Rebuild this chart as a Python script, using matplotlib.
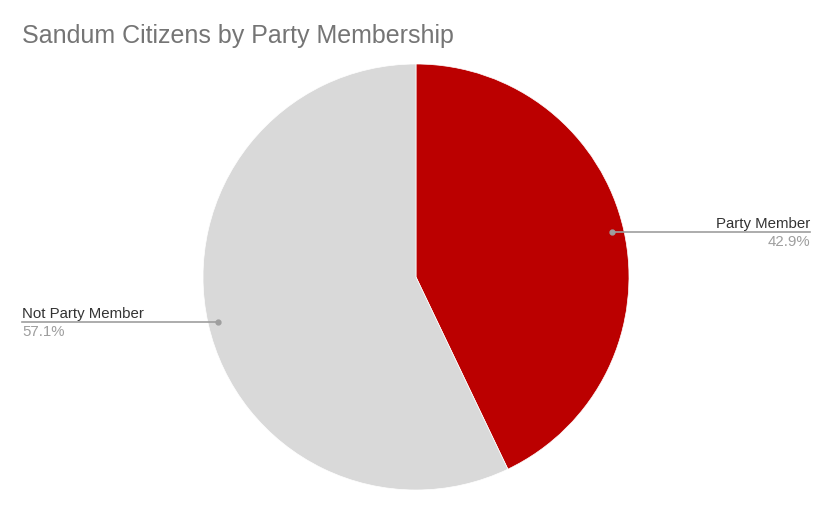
import matplotlib

matplotlib.use("Agg")
import matplotlib.pyplot as plt

plt.rcParams["font.family"] = ["Liberation Sans", "DejaVu Sans"]

TITLE = "Sandum Citizens by Party Membership"
LABELS = ["Party Member", "Not Party Member"]
VALUES = [42.9, 57.1]
COLORS = ["#bb0000", "#d9d9d9"]

W, H = 833, 513

fig = plt.figure(figsize=(W / 100, H / 100), dpi=100)
ax = fig.add_axes([0, 0, 1, 1])

cx, cy, r = 416, H - 277, 213
ax.pie(
    VALUES,
    colors=COLORS,
    startangle=90,
    counterclock=False,
    center=(cx, cy),
    radius=r,
    wedgeprops=dict(linewidth=0.5, edgecolor="white"),
    frame=True,
)
ax.set_xlim(0, W)
ax.set_ylim(0, H)
ax.set_aspect("equal")
ax.axis("off")

# leader lines + labels (google-chart style)
line_c = "#9e9e9e"
pct = [f"{v:.1f}%" for v in VALUES]
fs = 10.8

# Party Member on the right
y1 = H - 232
ax.plot([612, 810], [y1, y1], color=line_c, lw=1.2)
ax.plot([612], [y1], "o", color=line_c, ms=3.5)
ax.text(810, y1 + 4, LABELS[0], ha="right", va="baseline", fontsize=fs, color="#333333")
ax.text(810, y1 - 3, pct[0], ha="right", va="top", fontsize=fs, color="#9e9e9e")

# Not Party Member on the left
y2 = H - 322
ax.plot([22, 218], [y2, y2], color=line_c, lw=1.2)
ax.plot([218], [y2], "o", color=line_c, ms=3.5)
ax.text(22, y2 + 4, LABELS[1], ha="left", va="baseline", fontsize=fs, color="#333333")
ax.text(22, y2 - 3, pct[1], ha="left", va="top", fontsize=fs, color="#9e9e9e")

ax.text(22, H - 43, TITLE, ha="left", va="baseline", fontsize=18, color="#757575")

fig.savefig("out.png", dpi=100)
